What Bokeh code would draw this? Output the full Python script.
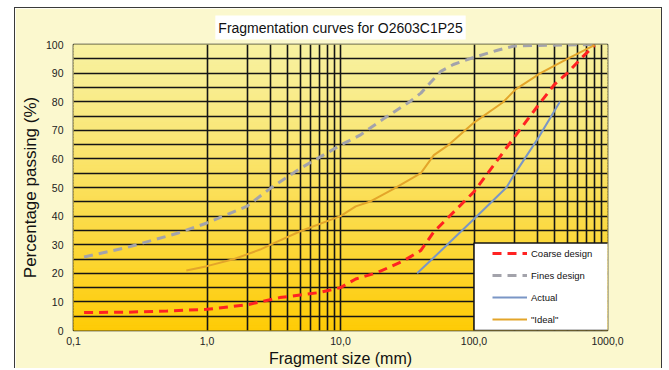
import numpy as np
from bokeh.plotting import figure
from bokeh.models import Range1d, FixedTicker, Legend, LegendItem, BoxAnnotation, ColumnDataSource
from bokeh.embed import file_html
from bokeh.resources import INLINE

# ---------------- data ----------------
title_text = "Fragmentation curves for O2603C1P25"
x_label = "Fragment size (mm)"
y_label = "Percentage passing (%)"

coarse_x = [0.12, 0.25, 0.5, 1, 2, 3.5, 7, 10, 13, 19, 30, 40, 50, 100, 200, 300, 400, 500, 630, 800]
coarse_y = [6.3, 6.4, 6.8, 7.4, 9.0, 11.5, 13.3, 15, 18, 20.3, 24.5, 28, 34.5, 48.5, 67.5, 78.5, 86, 90, 95, 99.8]

fines_x = [0.12, 0.25, 0.6, 1, 2, 3, 5, 10, 14, 21, 33, 40, 56, 70, 100, 150, 200, 800]
fines_y = [25.7, 29, 34, 37.6, 43.5, 49.8, 56.7, 64.8, 68.3, 74, 80, 83, 90.5, 93, 95.5, 98, 99.5, 100]

actual_x = [37.5, 50, 100, 175, 200, 300, 440]
actual_y = [20, 25.5, 39, 50, 54.5, 67, 80]

ideal_x = [0.7, 1, 1.6, 2.5, 3, 5, 10, 13, 16.5, 25, 40, 50, 65, 100, 165, 205, 315, 500, 800]
ideal_y = [21, 22.5, 25, 28.3, 30, 34.7, 40, 43.4, 45, 49.5, 55, 61.3, 65, 72.7, 79.8, 84.3, 90, 95, 99.8]

series_labels = ["Coarse design", "Fines design", "Actual", "\"Ideal\""]

x_ticks = [0.1, 1, 10, 100, 1000]
x_tick_labels = ["0,1", "1,0", "10,0", "100,0", "1000,0"]
x_grid = [0.1, 1, 2, 3, 4, 5, 6, 7, 8, 9, 10, 100, 200, 300, 400, 500, 600, 700, 800, 900, 1000]
y_ticks = list(range(0, 101, 10))
y_grid = list(range(0, 101, 5))

FONT = "Liberation Sans"

p = figure(width=648, height=361, x_axis_type="log",
           x_range=Range1d(0.1, 1000), y_range=Range1d(0, 100),
           output_backend="svg", toolbar_location=None,
           min_border_left=58, min_border_right=56, min_border_top=34, min_border_bottom=39,
           border_fill_color="#FBF8CE", background_fill_color="#F9E060")
p.margin = (7, 0, 0, 14)
p.styles = {"border-left": "1px solid #3a3a3a", "border-top": "1px solid #3a3a3a",
            "border-right": "1px solid #3a3a3a"}

# vertical gradient background of the plotting area
n = 100
edges = np.linspace(0, 100, n + 1)
t = 1 - (edges[:-1] + edges[1:]) / 200.0
top_rgb = np.array([248, 241, 160])
bot_rgb = np.array([254, 203, 6])
cols = []
for tt in t:
    c = top_rgb + (bot_rgb - top_rgb) * (tt ** 1.15)
    cols.append("#%02x%02x%02x" % tuple(int(round(v)) for v in c))
grad = ColumnDataSource(dict(b=edges[:-1], t=edges[1:], c=cols))
p.quad(left=0.1, right=1000, bottom="b", top="t", fill_color="c", line_color="c",
       line_width=1, source=grad, level="image")

# grid
p.xgrid.ticker = FixedTicker(ticks=x_grid)
p.ygrid.ticker = FixedTicker(ticks=y_grid)
for g in (p.xgrid, p.ygrid):
    g.grid_line_color = "#151515"
    g.grid_line_width = 1.6
    g.grid_line_alpha = 1.0
p.outline_line_color = "#151515"
p.outline_line_width = 1.6

# axes
p.xaxis.ticker = FixedTicker(ticks=x_ticks)
p.xaxis.major_label_overrides = {k: v for k, v in zip(x_ticks, x_tick_labels)}
p.yaxis.ticker = FixedTicker(ticks=y_ticks)
for ax in (p.xaxis, p.yaxis):
    ax.axis_line_color = None
    ax.major_tick_line_color = None
    ax.minor_tick_line_color = None
    ax.major_tick_out = 0
    ax.major_tick_in = 0
    ax.minor_tick_out = 0
    ax.minor_tick_in = 0
    ax.major_label_text_font = FONT
    ax.major_label_text_font_size = "10.5px"
    ax.major_label_text_color = "#222222"
    ax.axis_label_text_font = FONT
    ax.axis_label_text_font_style = "normal"
    ax.axis_label_text_color = "#111111"
p.xaxis.axis_label = x_label
p.yaxis.axis_label = y_label
p.xaxis.axis_label_text_font_size = "16px"
p.yaxis.axis_label_text_font_size = "17px"
p.xaxis.major_label_standoff = 6
p.xaxis.axis_label_standoff = 2
p.yaxis.major_label_standoff = 10
p.yaxis.axis_label_standoff = 3

# title
p.title.text = title_text
p.title.align = "center"
p.title.text_font = FONT
p.title.text_font_size = "14px"
p.title.text_font_style = "normal"
p.title.text_color = "#111111"
p.title.background_fill_color = "white"
p.title.standoff = 10
try:
    p.title.padding = (3, 4)
except Exception:
    pass

# curves
r_coarse = p.line(coarse_x, coarse_y, line_color="#FF2222", line_width=3, line_dash="9 6")
r_fines = p.line(fines_x, fines_y, line_color="#A3A3AB", line_width=3, line_dash="9 6")
r_actual = p.line(actual_x, actual_y, line_color="#7A96C6", line_width=2)
r_ideal = p.line(ideal_x, ideal_y, line_color="#E3A52A", line_width=2)

# legend box
box = BoxAnnotation(left=100, right=1035, bottom=0, top=30.6, fill_color="white", fill_alpha=1,
                    line_color="#151515", line_width=1.5, line_alpha=1)
p.add_layout(box)

legend = Legend(items=[LegendItem(label=l, renderers=[r]) for l, r in
                       zip(series_labels, [r_coarse, r_fines, r_actual, r_ideal])],
                location=(419, 1), padding=0, spacing=2, glyph_width=35, glyph_height=20,
                label_standoff=4, background_fill_alpha=0, border_line_alpha=0,
                label_text_font=FONT, label_text_font_size="9.5px", label_text_color="#111111")
p.add_layout(legend)

open("out.html", "w").write(file_html(p, INLINE))
